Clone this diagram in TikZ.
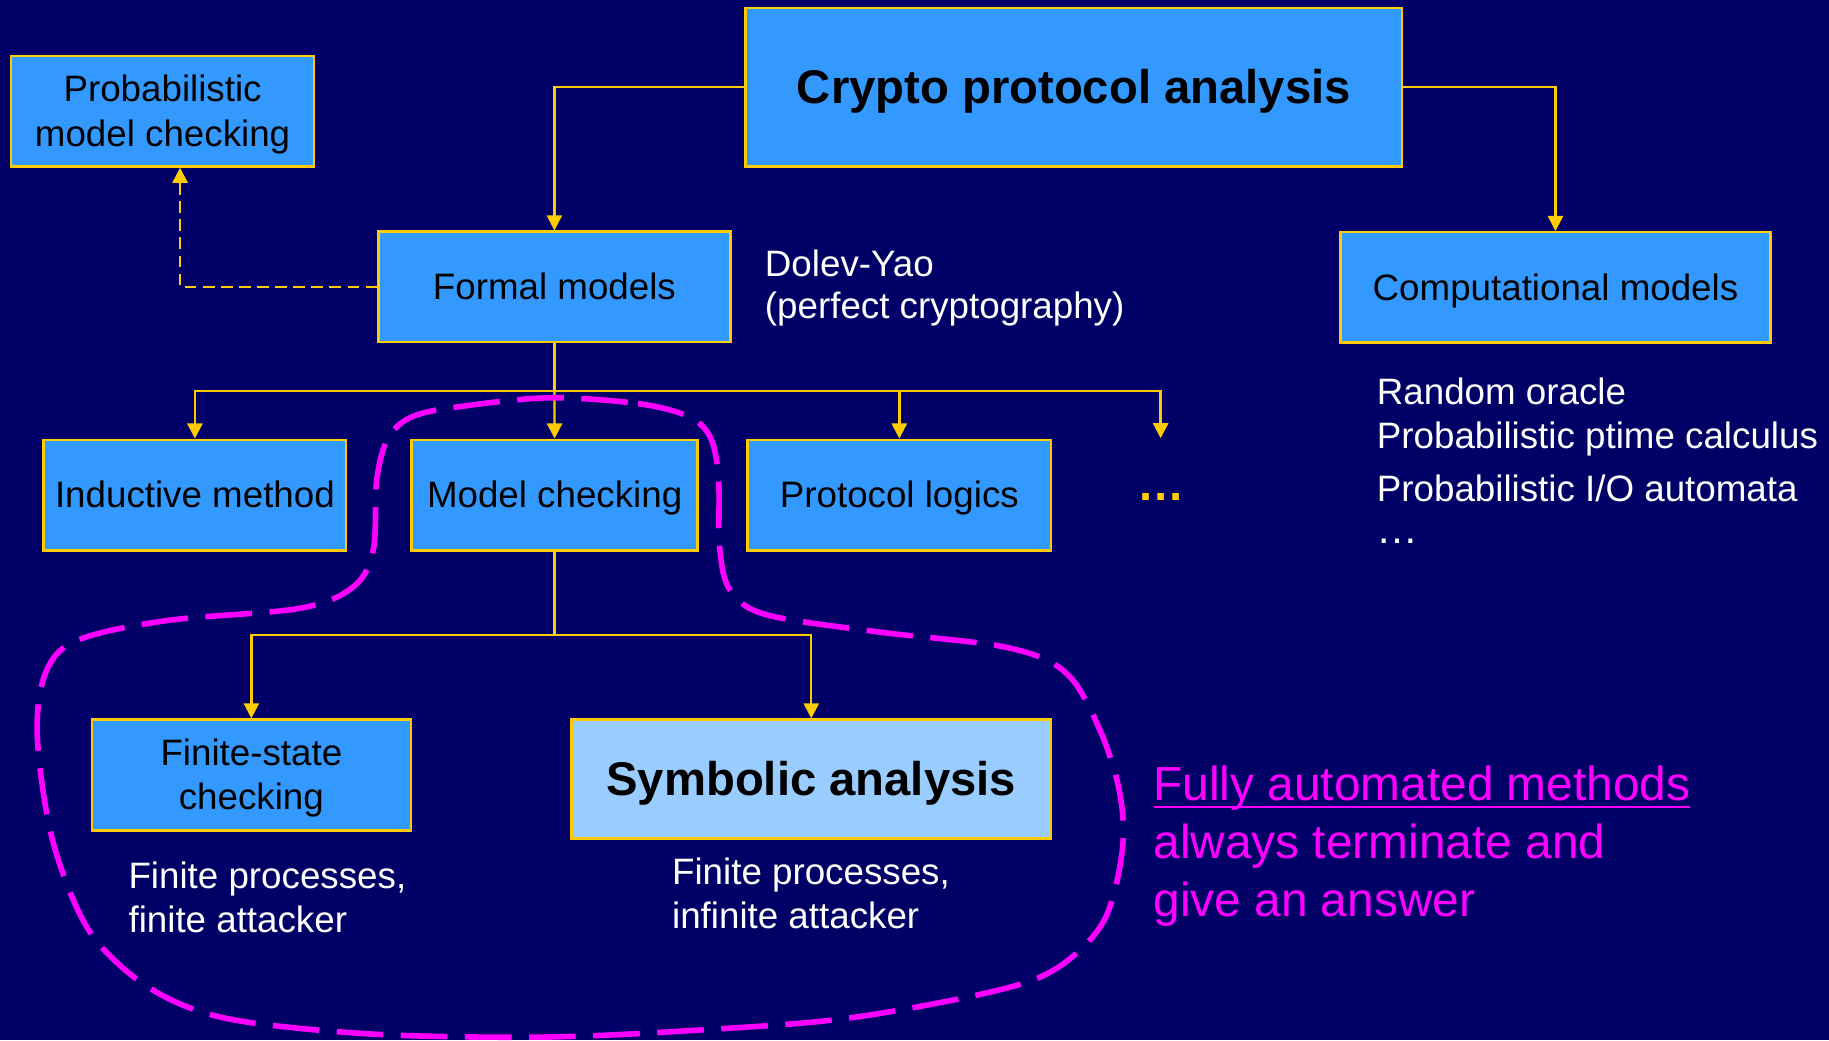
\documentclass[tikz,border=0pt]{standalone}
\usepackage{fontspec}
\setmainfont{Liberation Sans}
\usetikzlibrary{arrows.meta}
\definecolor{navy}{RGB}{0,0,102}
\definecolor{boxblue}{RGB}{51,153,255}
\definecolor{boxlight}{RGB}{153,204,255}
\definecolor{gold}{RGB}{255,204,0}
\definecolor{mag}{RGB}{255,0,255}
% line strut with the ascent/descent of the sans face
\newcommand\ppstrut{\rule[-0.212em]{0pt}{1.117em}}
% thick underline for the large magenta caption
\newcommand\ulmag[1]{\setbox0\hbox{#1}\rlap{\rule[-6.85pt]{\wd0}{2.3pt}}\box0}

\begin{document}
\begin{tikzpicture}[x=1pt,y=-1pt,
  txt/.style={font=\fontsize{31.5}{37.8}\selectfont},
  big/.style={font=\fontsize{40.5}{48.6}\selectfont\bfseries},
  box/.style={draw=gold, line width=2pt, fill=boxblue, inner sep=0pt, align=center, text=black},
  conn/.style={draw=gold, line width=2pt},
  arr/.style={conn, -{Triangle[width=13pt,length=13pt]}},
  note/.style={txt, text=white, anchor=north west, inner sep=0pt, align=left},
]
\fill[navy] (0,0) rectangle (1568,892);
\useasboundingbox (0,0) rectangle (1568,892);

% boxes
\node[box, big, minimum width=563pt, minimum height=136pt] (crypto) at (920.6,74.8) {\ppstrut Crypto protocol analysis};
\node[box, txt, minimum width=259.4pt, minimum height=94.8pt] (prob) at (139.4,95.4) {\ppstrut Probabilistic\\\ppstrut model checking};
\node[box, txt, minimum width=301.7pt, minimum height=94.8pt] (formal) at (475.3,246) {\ppstrut Formal models};
\node[box, txt, minimum width=368.5pt, minimum height=94.6pt] (comp) at (1333.5,246.4) {\ppstrut Computational models};
\node[box, txt, minimum width=259.4pt, minimum height=95pt] (induct) at (167.1,424.5) {\ppstrut Inductive method};
\node[box, txt, minimum width=245.2pt, minimum height=95pt] (model) at (475.5,424.5) {\ppstrut Model checking};
\node[box, txt, minimum width=260.2pt, minimum height=95pt] (proto) at (771,424.5) {\ppstrut Protocol logics};
\node[box, txt, minimum width=273.2pt, minimum height=95.2pt] (fsc) at (215.5,664.5) {\ppstrut Finite-state\\\ppstrut checking};
\node[box, big, fill=boxlight, minimum width=411.2pt, minimum height=102pt] (sym) at (695.5,667.9) {\ppstrut Symbolic analysis};

% connectors
\draw[arr] (crypto.west) -| (formal.north);
\draw[arr] (crypto.east) -| (comp.north);
\draw[arr, dash pattern=on 10pt off 5.5pt] (formal.west) -| ([xshift=15pt]prob.south);

\coordinate (busA) at (475.3,335.3);
\coordinate (moreend) at (995,375.7);
\draw[conn] (formal.south) -- (busA);
\draw[arr] (busA) -| (induct.north);
\draw[arr] (busA) -- (model.north);
\draw[arr] (busA) -| (proto.north);
\draw[arr] (busA) -| (moreend);
\node[big, text=gold, inner sep=0pt, anchor=base] (more) at (995,428.8) {…};

\coordinate (busB) at (475.5,544.3);
\draw[conn] (model.south) -- (busB);
\draw[arr] (busB) -| (fsc.north);
\draw[arr] (busB) -| (sym.north);

% side notes
\node[note] (dy) at (655.6,208.5) {\ppstrut Dolev-Yao\\[-1.8pt]\ppstrut (perfect cryptography)};
\node[note] (ro) at (1180.2,318.3) {\ppstrut Random oracle\\\ppstrut Probabilistic ptime calculus\\[7.5pt]\ppstrut Probabilistic I/O automata\\[-1.6pt]\ppstrut {\fontsize{36}{40}\selectfont …}};
\node[note] (fpl) at (110,733) {\ppstrut Finite processes,\\\ppstrut finite attacker};
\node[note] (fpr) at (576,729.3) {\ppstrut Finite processes,\\\ppstrut infinite attacker};
\node[note, font=\fontsize{41}{50}\selectfont, text=mag] (auto) at (988.7,648.7)
  {\ppstrut\ulmag{Fully automated methods}\\\ppstrut always terminate and\\\ppstrut give an answer};

% dashed outline round the fully automated methods
\draw[mag, line width=4.8pt, dash pattern=on 40pt off 15pt]
  plot[smooth cycle, tension=0.55] coordinates {
  (471,341) (547,346) (590,357) (609,375) (616,410) (617,470) (626,506)
  (657,527) (751,541.5) (863,555) (914,577) (943,626) (960,680) (962,730)
  (946,790) (906,830) (851,850) (726,873) (600,883) (470,889) (329,887)
  (217,877) (160,863) (114,837) (74,794) (45,720) (32,632) (39,577)
  (66,549) (143,532) (257,521.5) (303,503) (320,471.5) (323,411)
  (333,375) (354,357) (394,348.6)};
\end{tikzpicture}
\end{document}
